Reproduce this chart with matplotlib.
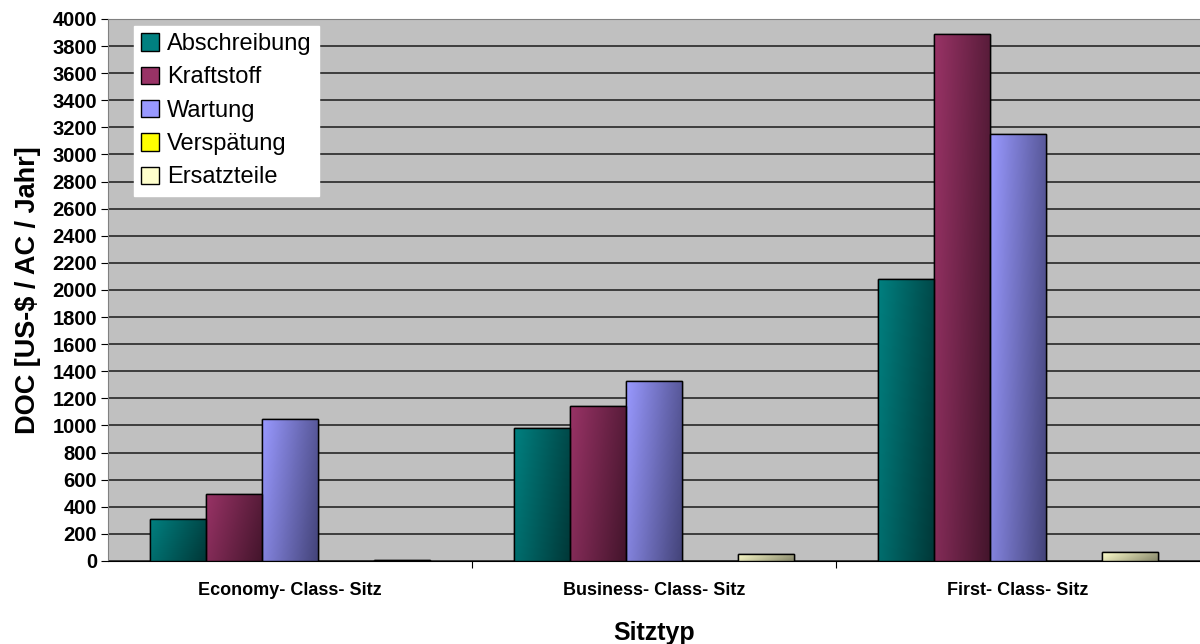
import numpy as np
import matplotlib.pyplot as plt
import matplotlib.colors as mcolors

plt.rcParams['font.family'] = ['Liberation Sans', 'DejaVu Sans']

categories = ["Economy- Class- Sitz", "Business- Class- Sitz", "First- Class- Sitz"]
series = ["Abschreibung", "Kraftstoff", "Wartung", "Verspätung", "Ersatzteile"]
abschreibung = [310, 980, 2080]
kraftstoff = [495, 1140, 3890]
wartung = [1048, 1330, 3150]
verspaetung = [0, 0, 0]
ersatzteile = [5, 52, 66]
values = [abschreibung, kraftstoff, wartung, verspaetung, ersatzteile]

light = ["#008080", "#993366", "#9999FF", "#FFFF00", "#FFFFCC"]
dark = ["#003838", "#44152c", "#44447a", "#7a7a00", "#86866a"]

fig = plt.figure(figsize=(12, 6.44), dpi=100)
ax = fig.add_axes([0.09, 0.129, 0.91, 0.8415])
ax.set_facecolor("#C0C0C0")

x = np.arange(len(categories))
w = 1 / 6.5
grad = np.linspace(0, 1, 64)
gx, gy = np.meshgrid(grad, grad)
g = 0.75 * gx + 0.25 * gy

for i, (name, vals) in enumerate(zip(series, values)):
    cmap = mcolors.LinearSegmentedColormap.from_list(name, [light[i], dark[i]])
    pos = x - 2 * w + i * w
    bars = ax.bar(pos, vals, w, color=light[i], edgecolor="black", linewidth=1,
                  label=name, zorder=3)
    for b in bars:
        h = b.get_height()
        if h <= 0:
            continue
        im = ax.imshow(g, cmap=cmap, aspect="auto", zorder=3.5,
                       extent=[b.get_x(), b.get_x() + b.get_width(), 0, h],
                       origin="upper")
        im.set_clip_path(b)
        ax.add_patch(plt.Rectangle((b.get_x(), 0), b.get_width(), h, fill=False,
                                   edgecolor="black", linewidth=1, zorder=4))

ax.set_xlim(-0.5, 2.5)
ax.set_ylim(0, 4000)
ax.set_yticks(np.arange(0, 4001, 200))
ax.yaxis.grid(True, color="black", linewidth=1.2, alpha=0.8)
ax.set_axisbelow(True)
ax.set_xticks([0.5, 1.5])
ax.set_xticklabels([])
ax.set_xticks(x, minor=True)
ax.set_xticklabels(categories, minor=True)
ax.tick_params(axis="x", which="minor", length=0, pad=15, labelsize=13)
ax.tick_params(axis="x", which="major", length=5, color="black")
ax.tick_params(axis="y", length=5, labelsize=14.5, pad=3)
for lab in ax.get_xticklabels(minor=True) + ax.get_yticklabels():
    lab.set_fontweight("bold")

for s in ["top", "left", "right"]:
    ax.spines[s].set_color("#808080")
ax.spines["right"].set_visible(False)
ax.spines["bottom"].set_color("black")

ax.set_ylabel("DOC [US-$ / AC / Jahr]", fontsize=19.5, fontweight="bold")
ax.yaxis.set_label_coords(-0.061, 0.5)
ax.set_xlabel("Sitztyp", fontsize=18, fontweight="bold")
ax.xaxis.set_label_coords(0.5, -0.11)

leg = ax.legend(loc="upper left", bbox_to_anchor=(0.024, 0.987), fontsize=17,
                frameon=True, fancybox=False, framealpha=1, edgecolor="white",
                handlelength=0.75, handleheight=0.75, handletextpad=0.35,
                labelspacing=0.48, borderpad=0.3, borderaxespad=0)
leg.set_zorder(10)

plt.savefig("out.png")
